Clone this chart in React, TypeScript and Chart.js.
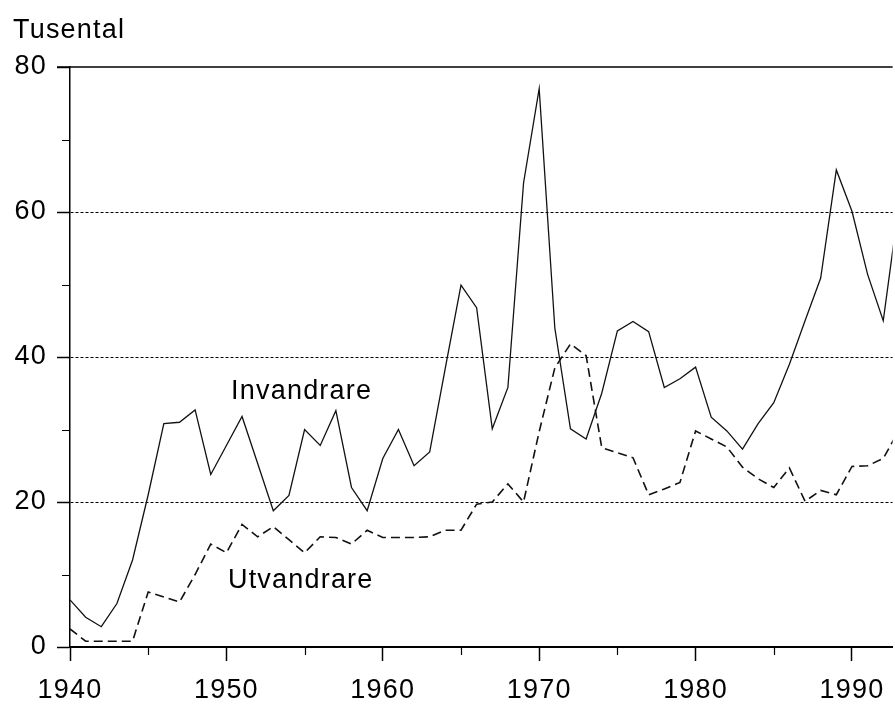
import React, { useEffect, useRef } from 'react';
import { Chart, registerables } from 'chart.js';

Chart.register(...registerables);

// ---- data ----
const years: number[] = [];
for (let yr = 1940; yr <= 1993; yr++) years.push(yr);

const invandrare = [
  6.5, 4.1, 2.8, 6.0, 12.0, 21.0, 30.8, 31.0, 32.7, 23.8,
  27.8, 31.8, 25.3, 18.8, 20.9, 30.0, 27.8, 32.6, 22.0, 18.8,
  26.0, 30.0, 25.0, 26.9, 38.5, 49.9, 46.8, 30.1, 35.8, 64.0,
  77.0, 44.0, 30.1, 28.7, 35.0, 43.6, 44.9, 43.5, 35.8, 37.0,
  38.6, 31.7, 29.8, 27.3, 30.8, 33.7, 39.0, 45.0, 50.9, 65.8,
  60.1, 51.4, 45.0, 61.0,
];

const utvandrare = [
  2.5, 0.8, 0.8, 0.8, 0.8, 7.6, 6.9, 6.2, 10.0, 14.2,
  13.0, 16.9, 15.2, 16.6, 14.8, 13.0, 15.2, 15.1, 14.2, 16.1,
  15.1, 15.1, 15.1, 15.2, 16.1, 16.1, 19.7, 20.0, 22.5, 20.0,
  29.7, 38.5, 41.8, 40.2, 27.5, 26.8, 26.1, 21.0, 21.8, 22.7,
  29.8, 28.7, 27.6, 24.8, 23.2, 22.0, 24.7, 20.1, 21.6, 21.0,
  24.9, 25.0, 26.0, 29.9,
];

const xTickValues = [1940, 1945, 1950, 1955, 1960, 1965, 1970, 1975, 1980, 1985, 1990];
const yTickValues = [0, 10, 20, 30, 40, 50, 60, 70, 80];
const gridValues = [20, 40, 60];
const yTitle = 'Tusental';
const seriesLabels = ['Invandrare', 'Utvandrare'];

const FAMILY = '"Liberation Sans", Arial, Helvetica, sans-serif';
const FONT_SIZE = 27;

const decor = {
  id: 'decor',
  beforeDraw(chart: any) {
    chart.ctx.letterSpacing = '1.2px';
  },
  afterDraw(chart: any) {
    const { ctx, chartArea } = chart;
    const x = chart.scales.x;
    const y = chart.scales.y;
    ctx.save();
    ctx.strokeStyle = '#000';
    ctx.setLineDash([]);
    // top frame line at 80
    ctx.lineWidth = 1.5;
    const yTop = y.getPixelForValue(80);
    ctx.beginPath();
    ctx.moveTo(chartArea.left - 13, yTop);
    ctx.lineTo(chartArea.right, yTop);
    ctx.stroke();
    // minor ticks
    ctx.lineWidth = 1.2;
    ctx.beginPath();
    xTickValues.filter((v) => v % 10 !== 0).forEach((v) => {
      const px = Math.round(x.getPixelForValue(v)) + 0.5;
      ctx.moveTo(px, chartArea.bottom);
      ctx.lineTo(px, chartArea.bottom + 8);
    });
    yTickValues.filter((v) => v % 20 !== 0).forEach((v) => {
      const py = Math.round(y.getPixelForValue(v)) + 0.5;
      ctx.moveTo(chartArea.left - 8, py);
      ctx.lineTo(chartArea.left, py);
    });
    ctx.stroke();
    // texts
    ctx.fillStyle = '#000';
    ctx.font = `${FONT_SIZE}px ${FAMILY}`;
    ctx.textAlign = 'left';
    ctx.textBaseline = 'alphabetic';
    ctx.fillText(yTitle, 13, 38);
    ctx.fillText(seriesLabels[0], x.getPixelForValue(1950.3), y.getPixelForValue(34.2));
    ctx.fillText(seriesLabels[1], x.getPixelForValue(1950.1), y.getPixelForValue(8.1));
    ctx.restore();
  },
};

export default function App() {
  const canvasRef = useRef<HTMLCanvasElement | null>(null);

  useEffect(() => {
    const canvas = canvasRef.current;
    if (!canvas) return;
    const chart = new Chart(canvas, {
      type: 'line',
      data: {
        datasets: [
          {
            label: seriesLabels[0],
            data: years.map((yr, i) => ({ x: yr, y: invandrare[i] })),
            borderColor: '#111',
            borderWidth: 1.3,
            pointRadius: 0,
            tension: 0,
            fill: false,
          },
          {
            label: seriesLabels[1],
            data: years.map((yr, i) => ({ x: yr, y: utvandrare[i] })),
            borderColor: '#111',
            borderWidth: 1.6,
            borderDash: [9, 5],
            pointRadius: 0,
            tension: 0,
            fill: false,
          },
        ],
      },
      options: {
        animation: false,
        responsive: false,
        events: [],
        layout: { padding: { top: 67, left: 0, right: 0, bottom: 0 } },
        plugins: {
          legend: { display: false },
          tooltip: { enabled: false },
          title: { display: false },
        },
        scales: {
          x: {
            type: 'linear',
            min: 1940,
            max: 1992.6,
            afterBuildTicks: (s: any) => {
              s.ticks = xTickValues.map((v) => ({ value: v }));
            },
            afterFit: (s: any) => {
              s.height = 62;
            },
            ticks: {
              autoSkip: false,
              maxRotation: 0,
              padding: 13,
              color: '#000',
              font: { family: FAMILY, size: FONT_SIZE },
              callback: (v: any) => (Number(v) % 10 === 0 ? String(v) : ''),
            },
            grid: {
              drawOnChartArea: false,
              tickLength: 14,
              tickWidth: 1.5,
              tickColor: (c: any) => (c.tick && c.tick.value % 10 === 0 ? '#000' : 'rgba(0,0,0,0)'),
            },
            border: { color: '#000', width: 2 },
          },
          y: {
            type: 'linear',
            min: 0,
            max: 80,
            afterBuildTicks: (s: any) => {
              s.ticks = yTickValues.map((v) => ({ value: v }));
            },
            afterFit: (s: any) => {
              s.width = 70;
            },
            ticks: {
              autoSkip: false,
              padding: 10,
              color: '#000',
              font: { family: FAMILY, size: FONT_SIZE },
              callback: (v: any) => (Number(v) % 20 === 0 ? String(v) : ''),
            },
            grid: {
              color: (c: any) => (c.tick && gridValues.includes(c.tick.value) ? '#000' : 'rgba(0,0,0,0)'),
              lineWidth: 1,
              tickLength: 13,
              tickWidth: 1.5,
              tickColor: (c: any) => (c.tick && c.tick.value % 20 === 0 ? '#000' : 'rgba(0,0,0,0)'),
            },
            border: { color: '#000', width: 1.5, dash: [3, 2] },
          },
        },
      } as any,
      plugins: [decor],
    });
    return () => chart.destroy();
  }, []);

  return (
    <div style={{ position: 'absolute', left: 0, top: 0, width: 895, height: 709 }}>
      <canvas ref={canvasRef} width={895} height={709} style={{ display: 'block' }} />
    </div>
  );
}
